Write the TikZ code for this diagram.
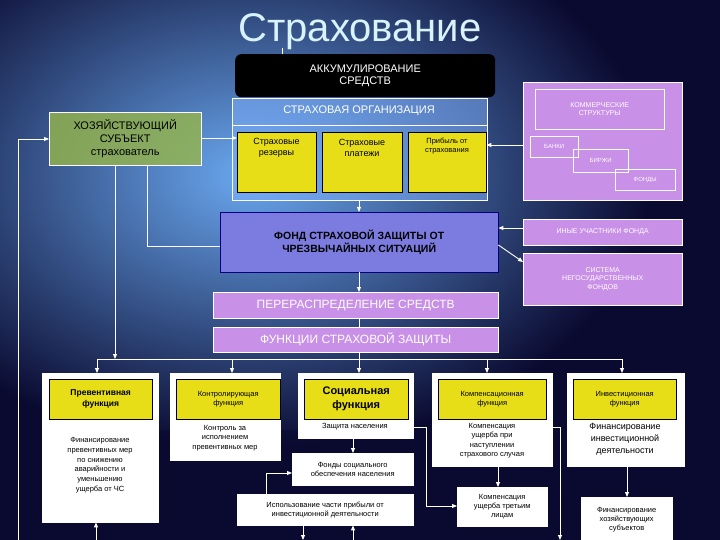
\documentclass[tikz,border=0pt]{standalone}
\usepackage{fontspec}
\setmainfont{Liberation Sans}
\usetikzlibrary{arrows.meta}
\definecolor{lilac}{HTML}{C890E6}
\definecolor{fundc}{HTML}{7C7CE0}
\definecolor{bgd}{HTML}{0A0A30}
\definecolor{bgl}{HTML}{6AA8F0}
\begin{document}
\begin{tikzpicture}[x=1pt,y=-1pt,
  every node/.style={inner sep=1pt,align=center,anchor=north west},
  wb/.style={draw=white,fill=white,text=black,font=\fontsize{7.5}{9}\selectfont},
  yb/.style={draw=black,fill=yellow!90!black,text=black,font=\fontsize{8}{9.5}\selectfont},
  lil/.style={draw=white,fill=lilac,text=white},
  ln/.style={draw=white,line width=0.9pt},
  ar/.style={ln,-{Triangle[length=5pt,width=4pt]}}]
\useasboundingbox (0,0) rectangle (720,540);
\fill[bgd] (0,0) rectangle (720,540);
\shade[inner color=bgl,outer color=bgd] (-150,-100) rectangle (650,450);
\fill[bgd,opacity=0.6] (0,430) rectangle (720,540);
% title
\node[text=cyan!15!white,font=\fontsize{40}{44}\selectfont,anchor=center] (title) at (360,32) {Страхование};
\coordinate (t1) at (282,48);
\node[fill=black,rounded corners=6pt,text=white,minimum width=260pt,minimum height=43pt,font=\fontsize{11}{12.5}\selectfont] (akk) at (235,54) {АККУМУЛИРОВАНИЕ\\СРЕДСТВ};
\draw[ln] (t1) -- (akk.north -| t1);
% org
\node[draw=white,fill=blue!60!cyan!50!white,fill opacity=0.5,text opacity=1,minimum width=255pt,minimum height=102pt] (org) at (232,98) {};
\draw[white] (232,125) -- (487,125);
\node[text=white,font=\fontsize{11}{12}\selectfont,anchor=center] (orgt) at (359,111) {СТРАХОВАЯ ОРГАНИЗАЦИЯ};
\node[yb,minimum width=79pt,minimum height=60pt,anchor=north west,font=\fontsize{9}{11}\selectfont] (y1) at (237,132) {};
\node[anchor=center,font=\fontsize{9}{11}\selectfont] at (276.5,148) {Страховые\\резервы};
\node[yb,minimum width=80pt,minimum height=60pt] (y2) at (322,132) {};
\node[anchor=center,font=\fontsize{9}{11}\selectfont] at (362,148) {Страховые\\платежи};
\node[yb,minimum width=78pt,minimum height=60pt] (y3) at (408,132) {};
\node[anchor=center,font=\fontsize{7.5}{9}\selectfont] at (447,146) {Прибыль от\\страхования};
% khoz
\node[draw=white,fill=olive!60!green!70!white,fill opacity=0.8,text opacity=1,text=black,minimum width=152pt,minimum height=53pt,font=\fontsize{11}{13}\selectfont] (khoz) at (49,112) {ХОЗЯЙСТВУЮЩИЙ\\СУБЪЕКТ\\страхователь};
\draw[ar] (khoz.east |- 0,138) -- (y1.west |- 0,138);
% commercial
\node[lil,minimum width=159pt,minimum height=118pt] (com) at (523,82) {};
\node[draw=white,text=white,minimum width=129pt,minimum height=40pt,font=\fontsize{7}{8.5}\selectfont] (comt) at (535,89) {КОММЕРЧЕСКИЕ\\СТРУКТУРЫ};
\node[draw=white,text=white,minimum width=48pt,minimum height=21pt,font=\fontsize{6}{7}\selectfont] (bank) at (530,136) {БАНКИ};
\node[draw=white,text=white,minimum width=55pt,minimum height=23pt,font=\fontsize{6}{7}\selectfont] (birzh) at (573,149) {БИРЖИ};
\node[draw=white,text=white,minimum width=60pt,minimum height=21pt,font=\fontsize{6}{7}\selectfont] (fond) at (615,169) {ФОНДЫ};
\draw[ar] (com.west |- 0,145) -- (y3.east |- 0,145);
% fund
\node[draw=blue!50!black,fill=fundc,text=black,minimum width=278pt,minimum height=60pt,font=\bfseries\fontsize{10.5}{13}\selectfont] (fsz) at (220,212) {ФОНД СТРАХОВОЙ ЗАЩИТЫ ОТ\\ЧРЕЗВЫЧАЙНЫХ СИТУАЦИЙ};
\draw[ar] (org.south -| 359,0) -- (fsz.north -| 359,0);
\node[lil,minimum width=159pt,minimum height=26pt,font=\fontsize{7}{8}\selectfont] (inye) at (523,219) {ИНЫЕ УЧАСТНИКИ ФОНДА};
\node[lil,minimum width=159pt,minimum height=52pt,font=\fontsize{7}{8.5}\selectfont] (sist) at (523,253) {СИСТЕМА\\НЕГОСУДАРСТВЕННЫХ\\ФОНДОВ};
\draw[ar] (inye.west |- 0,228) -- (fsz.east |- 0,228);
\draw[ar] (fsz.east |- 0,245) -- (sist.west |- 0,262);
\draw[ln] (khoz.south -| 147,0) |- (fsz.west |- 0,246);
% redistribution
\node[lil,minimum width=285pt,minimum height=26pt,font=\fontsize{12}{13}\selectfont] (per) at (213,292) {ПЕРЕРАСПРЕДЕЛЕНИЕ СРЕДСТВ};
\node[lil,minimum width=285pt,minimum height=25pt,font=\fontsize{12}{13}\selectfont] (fun) at (213,327) {ФУНКЦИИ СТРАХОВОЙ ЗАЩИТЫ};
\draw[ar] (fsz.south -| 359,0) -- (per.north -| 359,0);
\draw[ln] (per.south -| 359,0) -- (fun.north -| 359,0);
\coordinate (d) at (359,359);
\draw[ln] (fun.south -| d) -- (d);
\draw[ln] (97,359) -- (622,359);
\draw[ar] (khoz.south -| 115,0) -- (115,359);
% columns
\node[wb,minimum width=116pt,minimum height=149pt] (c1) at (42,373) {};
\node[wb,minimum width=110pt,minimum height=87pt] (c2) at (170,373) {};
\node[wb,minimum width=115pt,minimum height=65pt] (c3) at (298,373) {};
\node[wb,minimum width=120pt,minimum height=93pt] (c4) at (432,373) {};
\node[wb,minimum width=117pt,minimum height=93pt] (c5) at (567,373) {};
\foreach \c/\x in {c1/97,c2/232,c3/359,c4/487,c5/622}{\draw[ar] (\x,359) -- (\c.north -| \x,0);}
\node[yb,minimum width=103pt,minimum height=40pt,font=\bfseries\fontsize{8.5}{11}\selectfont] (h1) at (49,379) {Превентивная\\функция};
\node[yb,minimum width=104pt,minimum height=40pt,font=\fontsize{7.5}{9}\selectfont] (h2) at (176,379) {Контролирующая\\функция};
\node[yb,minimum width=104pt,minimum height=40pt,font=\bfseries\fontsize{11}{14}\selectfont] (h3) at (304,379) {Социальная\\функция};
\node[yb,minimum width=108pt,minimum height=40pt,font=\fontsize{7.5}{9}\selectfont] (h4) at (438,379) {Компенсационная\\функция};
\node[yb,minimum width=103pt,minimum height=40pt,font=\fontsize{7.5}{9}\selectfont] (h5) at (573,379) {Инвестиционная\\функция};
\node[anchor=north,font=\fontsize{7.5}{9.8}\selectfont] (b1) at (100,436) {Финансирование\\превентивных мер\\по снижению\\аварийности и\\уменьшению\\ущерба от ЧС};
\node[anchor=north,font=\fontsize{7.5}{9.5}\selectfont] (b2) at (225,424) {Контроль за\\исполнением\\превентивных мер};
\node[anchor=north,font=\fontsize{7.5}{9}\selectfont] (b3) at (355,422) {Защита населения};
\node[anchor=north,font=\fontsize{7.5}{9.5}\selectfont] (b4) at (492,422) {Компенсация\\ущерба при\\наступлении\\страхового случая};
\node[anchor=north,font=\fontsize{9}{12}\selectfont] (b5) at (625,422) {Финансирование\\инвестиционной\\деятельности};
% subs
\node[wb,minimum width=121pt,minimum height=32pt] (s1) at (292,453) {Фонды социального\\обеспечения населения};
\node[wb,minimum width=176pt,minimum height=31pt] (s2) at (237,494) {Использование части прибыли от\\инвестиционной деятельности};
\node[wb,minimum width=90pt,minimum height=39pt] (s3) at (457,487) {Компенсация\\ущерба третьим\\лицам};
\node[wb,minimum width=91pt,minimum height=45pt] (s4) at (581,497) {Финансирование\\хозяйствующих\\субъектов};
\draw[ar] (c3.south -| 353,0) -- (s1.north -| 353,0);
\draw[ar] (s2.north -| 266,0) |- (s1.west |- 0,473);
\draw[ar] (c4.south -| 498,0) -- (s3.north -| 498,0);
\draw[ar] (c5.south -| 627,0) -- (s4.north -| 627,0);
\draw[ar] (c3.east |- 0,427) -| (426,506) -- (s3.west |- 0,506);
\coordinate (e1) at (560,540);
\draw[ar] (c4.east |- 0,427) -| (e1);
\coordinate (e2) at (303,540);
\draw[ar] (s2.south -| e2) -- (e2);
\coordinate (e3) at (353,540);
\draw[ar] (e3) -- (s2.south -| e3);
\coordinate (e4) at (96,540);
\draw[ar] (e4) -- (c1.south -| e4);
\coordinate (e5) at (18,540);
\draw[ar] (e5) |- (khoz.west |- 0,139);
\end{tikzpicture}
\end{document}
